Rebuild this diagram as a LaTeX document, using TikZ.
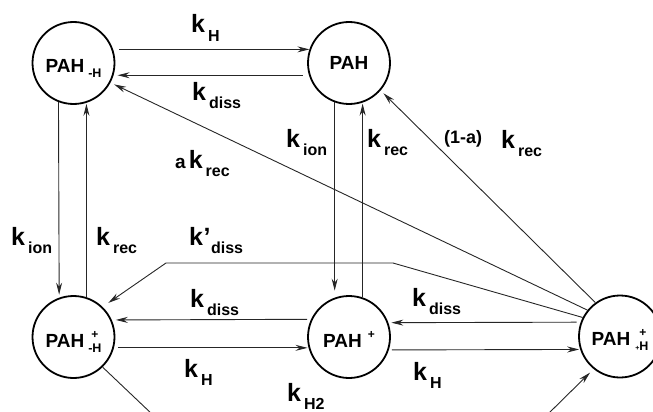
\documentclass[tikz,border=0pt]{standalone}
\usepackage{fontspec}
\setmainfont{Liberation Sans}
\usetikzlibrary{arrows.meta}
\newcommand{\kl}[1]{{\fontsize{25}{25}\selectfont k}\kern3pt\raisebox{-8.5pt}{\fontsize{16}{16}\selectfont #1}}
\newcommand{\klp}[1]{{\fontsize{25}{25}\selectfont k\kern0.5pt’}\kern0.5pt\raisebox{-8.5pt}{\fontsize{16}{16}\selectfont #1}}
\newcommand{\pahtxt}{{\fontsize{19}{19}\selectfont PAH}}
\newcommand{\smsub}[1]{\raisebox{-5.5pt}{\fontsize{12.5}{12.5}\selectfont #1}}
\newcommand{\smsup}[1]{\raisebox{9pt}{\fontsize{12}{12}\selectfont #1}}
\begin{document}
\begin{tikzpicture}[x=1pt,y=-1pt,font=\bfseries,
  state/.style={draw,circle,line width=1.8pt,minimum size=82pt,inner sep=0pt,text depth=0pt},
  conn/.style={line width=0.9pt,draw=black!85},
  arr/.style={conn,-{Stealth[length=12pt,width=6pt,inset=4pt]}},
  lbl/.style={inner sep=0pt,anchor=base west}]
\useasboundingbox (0,0) rectangle (653,412);
\clip (0,0) rectangle (653,412);
% states
\node[state,text height=18pt] (A) at (73.5,63) {\pahtxt\kern4pt\smsub{-H}};
\node[state,text height=14pt] (B) at (349,63) {\pahtxt};
\node[state,text height=20pt] (C) at (73.5,337) {\pahtxt\kern4pt\rlap{\kern3pt\smsup{+}}\smsub{-H}};
\node[state,text height=20pt] (D) at (349,337) {\pahtxt\kern6pt\smsup{+}};
\node[state,text height=17pt] (E) at (620,336.5) {\pahtxt\kern5pt\rlap{\kern4pt\smsup{+}}\smsub{{\fontsize{7}{7}\selectfont +}H}};
% top row
\draw[arr,shorten <=6pt,shorten >=0pt] (A.19) -- (B.161);
\draw[arr,shorten <=6pt,shorten >=4pt] (B.197) -- (A.-17);
% bottom row
\draw[arr,shorten <=4pt,shorten >=4pt] (D.155.5) -- (C.24.5);
\draw[arr,shorten <=4pt,shorten >=1pt] (C.-15.6) -- (D.195.6);
\draw[arr,shorten <=4pt,shorten >=3pt] (E.160) -- (D.20);
\draw[arr,shorten <=3pt,shorten >=1pt] (D.-18.5) -- (E.198.5);
% verticals left
\draw[arr,shorten >=3pt] (A.249.3) -- (C.110.7);
\draw[arr,shorten >=1pt] (C.72.25) -- (A.-72.25);
% verticals middle
\draw[arr,shorten >=7pt] (B.250) -- (D.110);
\draw[arr,shorten >=1pt] (D.71.5) -- (B.-71.5);
% diagonals
\draw[arr,shorten >=4pt] (E.141.2) -- (A.-28.6);
\draw[arr,shorten >=4pt] (E.126.7) -- (B.-41.4);
\coordinate (k1) at (393,263);
\coordinate (k2) at (166,263);
\draw[arr,shorten >=7pt] (E.153.4) -- (k1) -- (k2) -- (C.46.3);
% lower partial connectors
\coordinate (cout) at (153,415);
\draw[conn] (C.-46.4) -- (cout);
\coordinate (ein) at (547,415);
\draw[arr,shorten >=5pt] (ein) -- (E.231.5);
% labels
\node[lbl] (l1) at (191,33) {\kl{H}};
\node[lbl] (l2) at (192,100) {\kl{diss}};
\node[lbl] (l3) at (175,168) {{\fontsize{19}{19}\selectfont a}\kern3pt\kl{rec}};
\node[lbl] (l4) at (286,147) {\kl{ion}};
\node[lbl] (l5) at (367,147) {\kl{rec}};
\node[lbl] (l6) at (444,143) {{\fontsize{18}{18}\selectfont (1-a)}};
\node[lbl] (l7) at (501,148) {\kl{rec}};
\node[lbl] (l8) at (11,245) {\kl{ion}};
\node[lbl] (l9) at (96,245) {\kl{rec}};
\node[lbl] (l10) at (189,245) {\klp{diss}};
\node[lbl] (l11) at (190,307) {\kl{diss}};
\node[lbl] (l12) at (184,377) {\kl{H}};
\node[lbl] (l13) at (287,401) {\kl{H2}};
\node[lbl] (l14) at (412,306) {\kl{diss}};
\node[lbl] (l15) at (413,380) {\kl{H}};
\end{tikzpicture}
\end{document}
